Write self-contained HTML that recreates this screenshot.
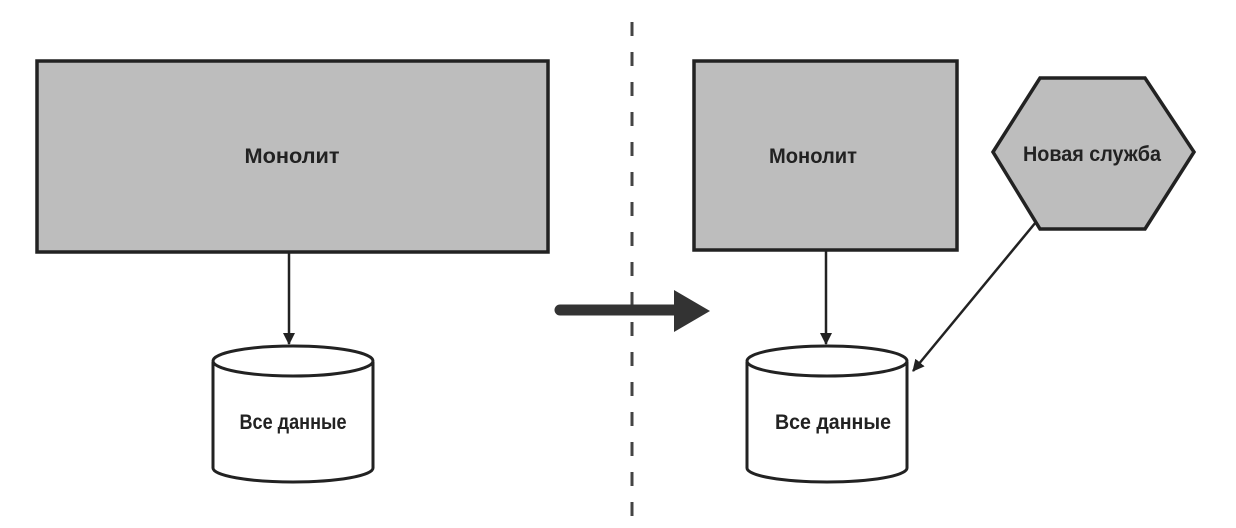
<!DOCTYPE html>
<html><head><meta charset="utf-8"><style>
html,body{margin:0;padding:0;background:#fff;}
svg{display:block;}
text{font-family:"Liberation Sans","DejaVu Sans",sans-serif;font-size:21px;font-weight:bold;fill:#222;}
</style></head><body>
<svg width="1236" height="528" viewBox="0 0 1236 528" xmlns="http://www.w3.org/2000/svg">
<defs>
<marker id="ah" markerWidth="12" markerHeight="12" refX="11" refY="6" orient="auto" markerUnits="userSpaceOnUse">
<path d="M0,0 L12,6 L0,12 Z" fill="#222"/>
</marker>
</defs>
<line x1="632" y1="22" x2="632" y2="528" stroke="#444" stroke-width="3" stroke-dasharray="14 16"/>
<rect x="37" y="61" width="511" height="191" fill="#bdbdbd" stroke="#222" stroke-width="3.5"/>
<text x="292" y="163" text-anchor="middle" textLength="95" lengthAdjust="spacingAndGlyphs">Монолит</text>
<line x1="289" y1="252" x2="289" y2="344" stroke="#222" stroke-width="2.5" marker-end="url(#ah)"/>
<path d="M213,362 L213,468 A80,14 0 0 0 373,468 L373,362" fill="#fff" stroke="#222" stroke-width="3"/>
<ellipse cx="293" cy="361" rx="80" ry="15" fill="#fff" stroke="#222" stroke-width="3"/>
<text x="293" y="429" text-anchor="middle" textLength="107" lengthAdjust="spacingAndGlyphs">Все данные</text>
<line x1="560" y1="310" x2="676" y2="310" stroke="#333" stroke-width="11" stroke-linecap="round"/>
<path d="M674,290 L710,311 L674,332 Z" fill="#333"/>
<rect x="694" y="61" width="263" height="189" fill="#bdbdbd" stroke="#222" stroke-width="3.5"/>
<text x="813" y="163" text-anchor="middle" textLength="88" lengthAdjust="spacingAndGlyphs">Монолит</text>
<path d="M993,152 L1040,78 L1145,78 L1194,152 L1145,229 L1040,229 Z" fill="#bdbdbd" stroke="#222" stroke-width="3.5"/>
<text x="1092" y="161" text-anchor="middle" textLength="138" lengthAdjust="spacingAndGlyphs">Новая служба</text>
<line x1="826" y1="250" x2="826" y2="344" stroke="#222" stroke-width="2.5" marker-end="url(#ah)"/>
<line x1="1036" y1="222" x2="913" y2="371" stroke="#222" stroke-width="2.5" marker-end="url(#ah)"/>
<path d="M747,362 L747,468 A80,14 0 0 0 907,468 L907,362" fill="#fff" stroke="#222" stroke-width="3"/>
<ellipse cx="827" cy="361" rx="80" ry="15" fill="#fff" stroke="#222" stroke-width="3"/>
<text x="833" y="429" text-anchor="middle" textLength="116" lengthAdjust="spacingAndGlyphs">Все данные</text>
</svg>
</body></html>
